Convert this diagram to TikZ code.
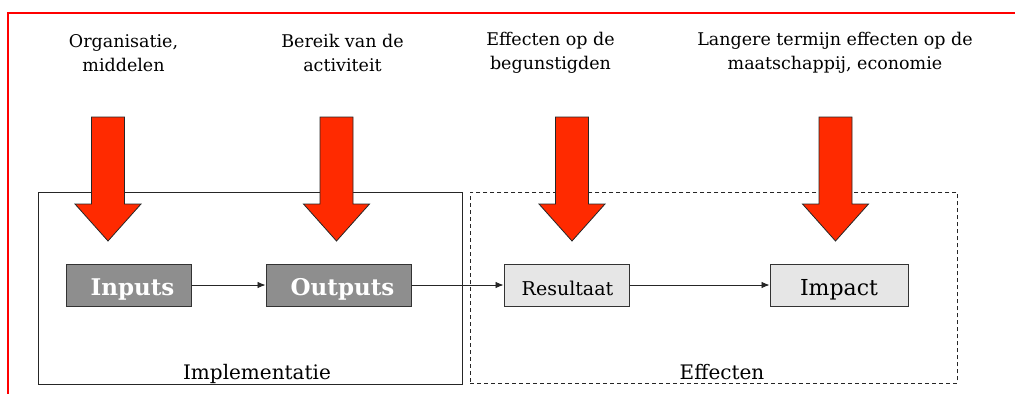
\documentclass[tikz,border=0pt]{standalone}
\usepackage{fontspec}
\setmainfont{DejaVu Serif}
\usetikzlibrary{arrows.meta}
\definecolor{arrowred}{HTML}{FF2A00}
\definecolor{darkbox}{HTML}{8E8E8E}
\definecolor{lightbox}{HTML}{E6E6E6}
\definecolor{frame}{HTML}{333333}
\tikzset{
  bigarrow/.pic={\draw[fill=arrowred, draw=black!85, line width=0.8pt, line join=miter]
    (-16.5,0) -- (16.5,0) -- (16.5,87) -- (33,87) -- (0,124) -- (-33,87) -- (-16.5,87) -- cycle;},
  toplabel/.style={align=center, font=\fontsize{17.5}{24}\selectfont, inner sep=0pt},
  groupbox/.style={draw=black!85, line width=0.8pt, anchor=north west, inner sep=0pt},
  grouplabel/.style={font=\fontsize{20}{22}\selectfont, anchor=base, inner sep=0pt},
  stepbase/.style={draw=frame, line width=1pt, inner sep=0pt, minimum height=42,
    text height=20pt, text depth=0pt},
  darkstep/.style={stepbase, fill=darkbox, text=white, font=\fontsize{23}{26}\selectfont\bfseries},
  lightstep/.style={stepbase, fill=lightbox, text=black},
  conn/.style={draw=black!85, line width=0.8pt, -{Latex[length=8pt,width=6.5pt]}}
}
\begin{document}
\begin{tikzpicture}[x=1pt,y=-1pt]
\useasboundingbox (0,0) rectangle (1015,394);
% red frame
\draw[red, line width=2pt] (1015,12.7) -- (8,12.7) -- (8,394);
% group boxes
\node[groupbox, minimum width=424, minimum height=192] (impl) at (38,192) {};
\node[groupbox, dashed, dash pattern=on 4pt off 3pt, minimum width=487, minimum height=191] (eff) at (470,192) {};
\node[grouplabel] (impllabel) at (257,379) {Implementatie};
\node[grouplabel] (efflabel) at (722,379) {Effecten};
% top labels
\node[toplabel] (l1) at (123.5,53) {Organisatie,\\middelen};
\node[toplabel] (l2) at (342.5,53) {Bereik van de\\activiteit};
\node[toplabel] (l3) at (550.5,53) {Effecten op de\\begunstigden};
\node[toplabel] (l4) at (835,53) {Langere termijn effecten op de\\maatschappij, economie};
% red arrows
\pic at (108,117) {bigarrow};
\pic at (336.5,117) {bigarrow};
\pic at (572,117) {bigarrow};
\pic at (835.5,117) {bigarrow};
% steps
\node[darkstep, minimum width=125] (inputs) at (128.5,285) {\hspace{8pt}Inputs};
\node[darkstep, minimum width=145] (outputs) at (338.5,285) {\hspace{8pt}Outputs};
\node[lightstep, minimum width=125, font=\fontsize{19}{22}\selectfont] (resultaat) at (566.5,285) {\hspace{2pt}Resultaat};
\node[lightstep, minimum width=138, font=\fontsize{22}{26}\selectfont] (impact) at (839,285) {Impact};
% connectors
\draw[conn] (inputs) -- (outputs);
\draw[conn] (outputs) -- (resultaat);
\draw[conn] (resultaat) -- (impact);
\end{tikzpicture}
\end{document}
